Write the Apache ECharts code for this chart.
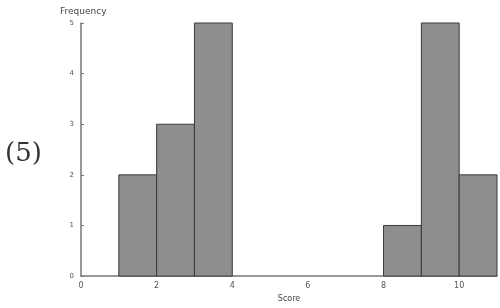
<!DOCTYPE html>
<html>
<head>
<meta charset="utf-8">
<script src="https://cdn.jsdelivr.net/npm/echarts@6/dist/echarts.min.js"></script>
<style>
 html,body{margin:0;padding:0;background:#fff;}
 #main{width:500px;height:308px;}
</style>
</head>
<body>
<div id="main"></div>
<script>
// histogram bins (score ranges) and their counts
var binStart = [1, 2, 3, 8, 9, 10];
var binEnd = [2, 3, 4, 9, 10, 11];
var counts = [2, 3, 5, 1, 5, 2];
var xTicks = [0, 2, 4, 6, 8, 10];
var yTicks = [0, 1, 2, 3, 4, 5];

var bins = [];
for (var i = 0; i < counts.length; i++) {
	bins.push([binStart[i], binEnd[i], counts[i]]);
}

var myChart = echarts.init(document.getElementById('main'));
myChart.setOption({
	animation: false,
	grid: { left: 81, right: 0, top: 23, bottom: 24 },
	xAxis: {
		type: 'value', min: 0, max: 11, interval: 2,
		name: 'Score', nameLocation: 'middle', nameGap: 15,
		nameTextStyle: { fontSize: 8, color: '#444', fontFamily: 'DejaVu Sans' },
		axisLine: { lineStyle: { color: '#777', width: 1.5 } },
		axisTick: { show: false },
		splitLine: { show: false },
		axisLabel: { fontSize: 8, color: '#555', margin: 6, fontFamily: 'DejaVu Sans',
			formatter: function (v) { return xTicks.indexOf(v) >= 0 ? v : ''; } }
	},
	yAxis: {
		type: 'value', min: 0, max: 5, interval: 1,
		axisLine: { show: true, lineStyle: { color: '#777', width: 1.5 } },
		axisTick: { show: true, inside: true, length: 3, lineStyle: { color: '#777' } },
		splitLine: { show: false },
		axisLabel: { fontSize: 7, color: '#555', margin: 7, fontFamily: 'DejaVu Sans',
			formatter: function (v) { return yTicks.indexOf(v) >= 0 ? v : ''; } }
	},
	graphic: [
		{ type: 'text', left: 60, top: 7, style: { text: 'Frequency', fontSize: 9, fill: '#444', fontFamily: 'DejaVu Sans' } },
		{ type: 'text', left: 5, top: 141, style: { text: '(5)', fontSize: 26, fill: '#333', fontFamily: 'DejaVu Serif' } }
	],
	series: [{
		type: 'custom',
		data: bins,
		encode: { x: [0, 1], y: 2 },
		renderItem: function (params, api) {
			var p0 = api.coord([api.value(0), api.value(2)]);
			var p1 = api.coord([api.value(1), 0]);
			return {
				type: 'rect',
				shape: { x: p0[0], y: p0[1], width: p1[0] - p0[0], height: p1[1] - p0[1] },
				style: { fill: '#8e8e8e', stroke: '#3a3a3a', lineWidth: 1 }
			};
		}
	}]
});
</script>
</body>
</html>
